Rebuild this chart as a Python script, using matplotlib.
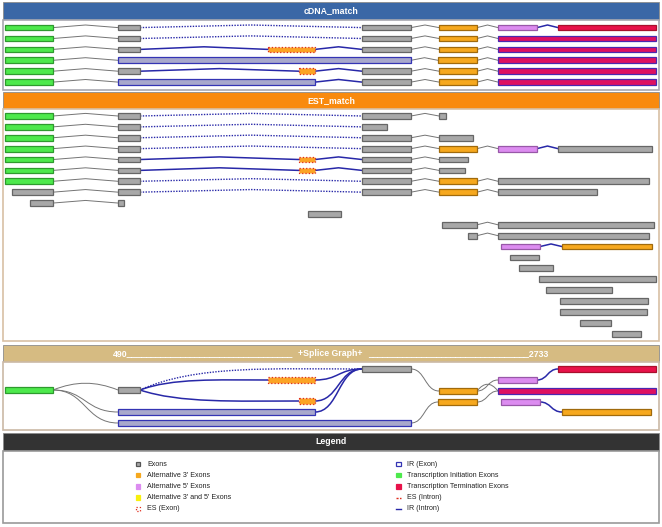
"""
Splice graph view: cDNA_match / EST_match tracks, splice graph and legend.
Drawn on one pixel-scaled axes (1 data unit = 1 px).
"""
import matplotlib

matplotlib.use("Agg")
import matplotlib.pyplot as plt
from matplotlib.patches import PathPatch, Rectangle
from matplotlib.path import Path

W, H = 662, 527
FONT = "Liberation Sans"

# exon kinds: ex=exon, ti=transcription initiation, tt=termination,
# a3/a5=alternative 3'/5', es=exon skipping exon, ir=intron retention,
# irt=termination exon with retained intron
STYLE = {
    "ex": ("#a8a8a8", "#666666", "-"),
    "ti": ("#4de94c", "#2e9a2e", "-"),
    "tt": ("#e8124a", "#a8102c", "-"),
    "a3": ("#f6a81e", "#a06a0c", "-"),
    "a5": ("#dc8cf0", "#9858a8", "-"),
    "es": ("#fba425", "#e02a1a", ":"),
    "ir": ("#a8a8cc", "#3434b4", "-"),
    "irt": ("#de1060", "#4a28b0", "-"),
}
LINK = {
    "g": dict(color="#747474", lw=0.7, ls="-"),
    "b": dict(color="#2828a8", lw=1.1, ls="-"),
    "d": dict(color="#2828a8", lw=1.0, ls=(0, (1, 1))),
}

# ---- cDNA_match transcripts: exons (start, end, kind) and links between them
CDNA_EXONS = [
    [(5, 53, "ti"), (118, 140, "ex"), (362, 411, "ex"), (439, 477, "a3"), (498, 537, "a5"), (558, 656, "tt")],
    [(5, 53, "ti"), (118, 140, "ex"), (362, 411, "ex"), (439, 477, "a3"), (498, 656, "irt")],
    [(5, 53, "ti"), (118, 140, "ex"), (268, 315, "es"), (362, 411, "ex"), (439, 477, "a3"), (498, 656, "irt")],
    [(5, 53, "ti"), (118, 411, "ir"), (438, 477, "a3"), (498, 656, "irt")],
    [(5, 53, "ti"), (118, 140, "ex"), (299, 315, "es"), (362, 411, "ex"), (439, 477, "a3"), (498, 656, "irt")],
    [(5, 53, "ti"), (118, 315, "ir"), (362, 411, "ex"), (439, 477, "a3"), (498, 656, "irt")],
]
CDNA_LINKS = ["gdggb", "gdgg", "gbbgg", "ggg", "gbbgg", "gbgg"]

# ---- EST_match transcripts
EST_EXONS = [
    [(5, 53, "ti"), (118, 140, "ex"), (362, 411, "ex"), (439, 446, "ex")],
    [(5, 53, "ti"), (118, 140, "ex"), (362, 387, "ex")],
    [(5, 53, "ti"), (118, 140, "ex"), (362, 411, "ex"), (439, 473, "ex")],
    [(5, 53, "ti"), (118, 140, "ex"), (362, 411, "ex"), (439, 477, "a3"), (498, 537, "a5"), (558, 652, "ex")],
    [(5, 53, "ti"), (118, 140, "ex"), (299, 315, "es"), (362, 411, "ex"), (439, 468, "ex")],
    [(5, 53, "ti"), (118, 140, "ex"), (299, 315, "es"), (362, 411, "ex"), (439, 465, "ex")],
    [(5, 53, "ti"), (118, 140, "ex"), (362, 411, "ex"), (439, 477, "a3"), (498, 649, "ex")],
    [(12, 53, "ex"), (118, 140, "ex"), (362, 411, "ex"), (439, 477, "a3"), (498, 597, "ex")],
    [(30, 53, "ex"), (118, 124, "ex")],
    [(308, 341, "ex")],
    [(442, 477, "ex"), (498, 654, "ex")],
    [(468, 477, "ex"), (498, 649, "ex")],
    [(501, 540, "a5"), (562, 652, "a3")],
    [(510, 539, "ex")],
    [(519, 553, "ex")],
    [(539, 656, "ex")],
    [(546, 612, "ex")],
    [(560, 648, "ex")],
    [(560, 647, "ex")],
    [(580, 611, "ex")],
    [(612, 641, "ex")],
]
EST_LINKS = ["gdg", "gd", "gdg", "gdggb", "gbbg", "gbbg", "gdgg", "gdgg", "g",
             "", "g", "g", "b", "", "", "", "", "", "", "", ""]

# ---- splice graph: nodes (start, end, y, kind) and edges (from, to, link, shape)
SG_NODES = {
    "ti": (5, 53, 390, "ti"),
    "e2": (118, 140, 390, "ex"),
    "es1": (268, 315, 380, "es"),
    "es2": (299, 315, 401, "es"),
    "ir1": (118, 315, 412, "ir"),
    "ir2": (118, 411, 423, "ir"),
    "e3": (362, 411, 369, "ex"),
    "o1": (439, 477, 391, "a3"),
    "o2": (438, 477, 402, "a3"),
    "p1": (498, 537, 380, "a5"),
    "rt": (498, 656, 391, "irt"),
    "p2": (501, 540, 402, "a5"),
    "tt": (558, 656, 369, "tt"),
    "o3": (562, 651, 412, "a3"),
}
SG_EDGES = [
    ("ti", "e2", "g", "arch"), ("ti", "ir1", "g", "s"), ("ti", "ir2", "g", "s"),
    ("e2", "es1", "b", "fast"), ("e2", "e3", "d", "fast"), ("e2", "es2", "b", "fast"),
    ("es1", "e3", "b", "s"), ("es2", "e3", "b", "s"), ("ir1", "e3", "b", "s"),
    ("e3", "o1", "g", "s"), ("ir2", "o2", "g", "s"),
    ("o1", "p1", "g", "s"), ("o1", "rt", "g", "arch"), ("o2", "rt", "g", "s"),
    ("p1", "tt", "b", "s"), ("p2", "o3", "b", "s"),
]

LEGEND_LEFT = [("ex", "Exons"), ("a3", "Alternative 3' Exons"), ("a5", "Alternative 5' Exons"),
               ("a35", "Alternative 3' and 5' Exons"), ("esx", "ES (Exon)")]
LEGEND_RIGHT = [("irx", "IR (Exon)"), ("ti", "Transcription Initiation Exons"),
                ("tt", "Transcription Termination Exons"), ("esi", "ES (Intron)"), ("iri", "IR (Intron)")]

EXON_H = 5.8


def exon(ax, x0, x1, y, kind):
    face, edge, ls = STYLE[kind]
    ax.add_patch(Rectangle((x0, y - EXON_H / 2), x1 - x0, EXON_H, facecolor=face,
                           edgecolor=edge, linewidth=0.9, linestyle=ls, zorder=3))


def track(ax, exons, links, y):
    for (a, b) in zip(range(len(exons) - 1), links):
        xa, xb = exons[a][1], exons[a + 1][0]
        ax.plot([xa, (xa + xb) / 2, xb], [y, y - 2.6, y], zorder=2, **LINK[b])
    for x0, x1, k in exons:
        exon(ax, x0, x1, y, k)


def edge(ax, p, q, link, shape):
    x1, y1 = p
    x2, y2 = q
    dx = x2 - x1
    if shape == "arch":
        c1, c2 = (x1 + 0.35 * dx, y1 - 9), (x2 - 0.35 * dx, y2 - 9)
    elif shape == "fast":
        c1, c2 = (x1 + 0.25 * dx, y2 - 0.2 * (y1 - y2)), (x2 - 0.4 * dx, y2)
    else:
        c1, c2 = (x1 + 0.5 * dx, y1), (x2 - 0.5 * dx, y2)
    st = LINK[link]
    path = Path([p, c1, c2, q], [Path.MOVETO, Path.CURVE4, Path.CURVE4, Path.CURVE4])
    ax.add_patch(PathPatch(path, facecolor="none", edgecolor=st["color"],
                           linewidth=st["lw"], linestyle=st["ls"], zorder=2))


def panel(ax, top, head_h, bottom, head_color, body_edge):
    ax.add_patch(Rectangle((3, top), 656, head_h, facecolor=head_color, edgecolor="#8c8c8c",
                           linewidth=0.6, zorder=1))
    ax.add_patch(Rectangle((3, top + head_h), 656, bottom - top - head_h, facecolor="white",
                           edgecolor=body_edge, linewidth=1.2, zorder=1))


def legend_icon(ax, x, y, key):
    s = 4.5
    if key in ("esi", "iri"):
        color = "#e02a1a" if key == "esi" else "#2828a8"
        ls = (0, (1.5, 1.0)) if key == "esi" else "-"
        ax.plot([x, x + s], [y, y], color=color, lw=1.0, ls=ls)
        return
    face, edgec, ls = {
        "ex": ("#a8a8a8", "#555555", "-"), "a3": ("#f6a81e", "#f6a81e", "-"),
        "a5": ("#dc8cf0", "#dc8cf0", "-"), "a35": ("#f8f00e", "#f8f00e", "-"),
        "esx": ("white", "#e02a1a", ":"), "irx": ("white", "#3434b4", "-"),
        "ti": ("#4de94c", "#4de94c", "-"), "tt": ("#e8124a", "#e8124a", "-"),
    }[key]
    ax.add_patch(Rectangle((x, y - s / 2), s, s, facecolor=face, edgecolor=edgec,
                           linewidth=0.9, linestyle=ls, zorder=3))


def main() -> None:
    fig = plt.figure(figsize=(W / 100, H / 100), dpi=100)
    ax = fig.add_axes([0, 0, 1, 1])
    ax.set_xlim(0, W)
    ax.set_ylim(H, 0)
    ax.axis("off")

    head_kw = dict(ha="center", va="center", color="white", fontsize=6.3,
                   fontweight="bold", family=FONT, zorder=4)

    # cDNA_match
    panel(ax, 2, 17.5, 90, "#3a67a6", "#a8a8b0")
    ax.text(331, 11, "cDNA_match", **head_kw)
    for i, (ex, lk) in enumerate(zip(CDNA_EXONS, CDNA_LINKS)):
        track(ax, ex, lk, 27.6 + 10.9 * i)

    # EST_match
    panel(ax, 92, 16.5, 341, "#f98a0d", "#d8c0a4")
    ax.text(331, 100.5, "EST_match", **head_kw)
    for i, (ex, lk) in enumerate(zip(EST_EXONS, EST_LINKS)):
        track(ax, ex, lk, 116 + 10.88 * i)

    # splice graph
    panel(ax, 345, 16.5, 430, "#d6bb82", "#cbb9a6")
    ax.text(113, 353.5, "490" + "_" * 34, ha="left", va="center", color="white",
            fontsize=6.3, fontweight="bold", family=FONT, zorder=4)
    ax.text(330, 353.5, "+Splice Graph+", **head_kw)
    ax.text(548, 353.5, "_" * 33 + "2733", ha="right", va="center", color="white",
            fontsize=6.3, fontweight="bold", family=FONT, zorder=4)
    for a, b, link, shape in SG_EDGES:
        na, nb = SG_NODES[a], SG_NODES[b]
        edge(ax, (na[1], na[2]), (nb[0], nb[2]), link, shape)
    for x0, x1, y, k in SG_NODES.values():
        exon(ax, x0, x1, y, k)

    # legend
    panel(ax, 433, 18, 523, "#333333", "#9a9a9a")
    ax.text(331, 442, "Legend", **head_kw)
    for col, (ix, tx) in ((LEGEND_LEFT, (135.5, 147)), (LEGEND_RIGHT, (396, 407))):
        for j, (key, label) in enumerate(col):
            y = 464 + 11.2 * j
            legend_icon(ax, ix, y, key)
            ax.text(tx, y, label, ha="left", va="center", fontsize=5.1, color="#222222",
                    family=FONT)

    fig.savefig("out.png", dpi=100, facecolor="white")
    plt.close(fig)


if __name__ == "__main__":
    main()
